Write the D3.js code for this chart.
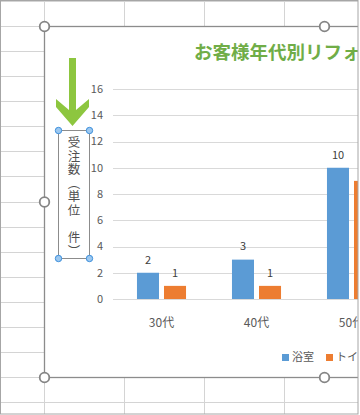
<!DOCTYPE html>
<html>
<head>
<meta charset="utf-8">
<script src="https://cdn.jsdelivr.net/npm/d3@7"></script>
<style>
  body { margin: 0; background: #fff; }
  svg { display: block; font-family: "Noto Sans CJK JP", "Noto Sans", sans-serif; }
</style>
</head>
<body>
<div id="chart"></div>
<script>
// chart data
var categories = ["30代", "40代", "50代"]
var seriesNames = ["浴室", "トイレ"]
var bathValues = [2, 3, 10]
var toiletValues = [1, 1, 9]
var yTicks = [0, 2, 4, 6, 8, 10, 12, 14, 16]
var titleText = "お客様年代別リフォーム受注数"
var axisTitle = "受注数（単位　件）"

var colors = ["#5b9bd5", "#ed7d31"]
var width = 360, height = 415

var svg = d3.select("#chart").append("svg")
  .attr("width", width)
  .attr("height", height)

svg.append("defs").append("clipPath").attr("id", "view")
  .append("rect").attr("x", 0).attr("y", 0).attr("width", 358).attr("height", 414)

var root = svg.append("g").attr("clip-path", "url(#view)")

// spreadsheet cells behind the chart
var colX = d3.range(44, 360, 80)
var rowY = d3.range(0, 17).map(function(k) { return 1 + k * 25.07 })
root.selectAll(".col").data(colX).enter().append("line")
  .attr("x1", d => d + 0.5).attr("x2", d => d + 0.5)
  .attr("y1", 0).attr("y2", height)
  .attr("stroke", "#d4d4d4")
root.selectAll(".row").data(rowY).enter().append("line")
  .attr("x1", 0).attr("x2", width)
  .attr("y1", d => Math.round(d) + 0.5).attr("y2", d => Math.round(d) + 0.5)
  .attr("stroke", "#d4d4d4")

// chart area
root.append("rect")
  .attr("x", 44.5).attr("y", 26.5)
  .attr("width", 560).attr("height", 351)
  .attr("fill", "#fff")
  .attr("stroke", "#8c8c8c")
  .attr("stroke-width", 1.3)

// title
root.append("text")
  .attr("x", 194).attr("y", 58.5)
  .attr("fill", "#70ad47")
  .style("font-size", "18.5px")
  .style("font-weight", "bold")
  .text(titleText)

// scales
var y = d3.scaleLinear().domain([0, 16]).range([299, 89])
var x0 = d3.scaleBand().domain(categories).range([114, 114 + 95 * categories.length])
var x1 = d3.scaleBand().domain(seriesNames).range([0, x0.bandwidth()])
  .paddingInner(0.185).paddingOuter(0.85)

// gridlines and y labels
root.selectAll(".grid").data(yTicks).enter().append("line")
  .attr("x1", 113).attr("x2", 620)
  .attr("y1", d => Math.round(y(d)) + 0.5).attr("y2", d => Math.round(y(d)) + 0.5)
  .attr("stroke", "#d9d9d9")
root.selectAll(".ylab").data(yTicks).enter().append("text")
  .attr("x", 103).attr("y", d => y(d))
  .attr("dy", "0.35em")
  .attr("text-anchor", "end")
  .attr("fill", "#595959")
  .style("font-size", "11px")
  .text(d => d)

// bars
var series = [bathValues, toiletValues]
var groups = root.selectAll(".cat").data(categories).enter().append("g")
  .attr("transform", d => "translate(" + x0(d) + ",0)")

groups.selectAll("rect")
  .data((c, i) => seriesNames.map((s, j) => ({ s: s, j: j, v: series[j][i] })))
  .enter().append("rect")
  .attr("x", d => x1(d.s))
  .attr("y", d => y(d.v))
  .attr("width", x1.bandwidth())
  .attr("height", d => y(0) - y(d.v))
  .attr("fill", d => colors[d.j])

groups.selectAll(".val")
  .data((c, i) => seriesNames.map((s, j) => ({ s: s, j: j, v: series[j][i] })))
  .enter().append("text")
  .attr("x", d => x1(d.s) + x1.bandwidth() / 2)
  .attr("y", d => y(d.v) - 13)
  .attr("dy", "0.35em")
  .attr("text-anchor", "middle")
  .attr("fill", "#404040")
  .style("font-size", "11px")
  .text(d => d.v)

// category labels
root.selectAll(".xlab").data(categories).enter().append("text")
  .attr("x", d => x0(d) + x0.bandwidth() / 2)
  .attr("y", 323)
  .attr("dy", "0.35em")
  .attr("text-anchor", "middle")
  .attr("fill", "#595959")
  .style("font-size", "12px")
  .text(d => d)

// legend
var legendX = [282, 326]
var lg = root.selectAll(".leg").data(seriesNames).enter().append("g")
  .attr("transform", (d, i) => "translate(" + legendX[i] + ",354)")
lg.append("rect").attr("width", 7).attr("height", 7).attr("fill", (d, i) => colors[i])
lg.append("text")
  .attr("x", 10).attr("y", 3.5).attr("dy", "0.35em")
  .attr("fill", "#595959")
  .style("font-size", "11px")
  .text(d => d)

// vertical axis title box
root.append("rect")
  .attr("x", 58.5).attr("y", 130.5)
  .attr("width", 31).attr("height", 128)
  .attr("fill", "#fff")
  .attr("stroke", "#8c8c8c")
root.append("text")
  .attr("x", 74).attr("y", 136)
  .style("writing-mode", "vertical-rl")
  .style("font-size", "12.5px")
  .style("letter-spacing", "1.1px")
  .attr("fill", "#505050")
  .text(axisTitle)
var handles = [[58.5, 130.5], [89.5, 130.5], [58.5, 258.5], [89.5, 258.5]]
root.selectAll(".h").data(handles).enter().append("circle")
  .attr("cx", d => d[0]).attr("cy", d => d[1]).attr("r", 3.2)
  .attr("fill", "#9cc8f0").attr("stroke", "#3d8fdb").attr("stroke-width", 1)

// chart selection handles
var chartHandles = [[44.5, 26.5], [324.5, 26.5], [44.5, 202], [44.5, 377.5], [324.5, 377.5]]
root.selectAll(".ch").data(chartHandles).enter().append("circle")
  .attr("cx", d => d[0]).attr("cy", d => d[1]).attr("r", 4.8)
  .attr("fill", "#fff").attr("stroke", "#858585").attr("stroke-width", 1.8)

// green arrow pointing at the axis title
root.append("path")
  .attr("d", "M69,58 L76,58 L76,110 L89,99 L89,107 L72.5,126 L56,107 L56,99 L69,110 Z")
  .attr("fill", "#8dc63f")

// window frame
svg.append("rect")
  .attr("x", 0.5).attr("y", 0.5).attr("width", 357.5).attr("height", 413.5)
  .attr("fill", "none").attr("stroke", "#a6a6a6")
</script>
</body>
</html>
